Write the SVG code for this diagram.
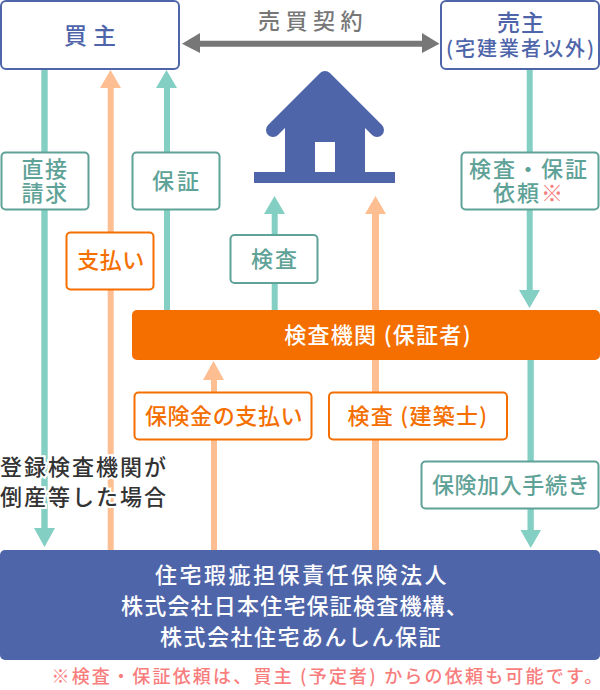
<svg xmlns="http://www.w3.org/2000/svg" width="600" height="690" viewBox="0 0 600 690">
<style>
text{font-family:"Noto Sans CJK JP","Noto Sans",sans-serif;text-anchor:middle;font-weight:500}
.g{fill:#5fa297;font-size:22px}
.o{fill:#f46f00;font-size:22px}
.box{fill:#fff;stroke-width:2}
.gb{stroke:#5fa297}
.ob{stroke:#f46f00}
.bb{stroke:#4f65aa}
.t{fill:#84cfc3}
.p{fill:#fdbe92}
.w{fill:#fff;font-size:22px}
.k{fill:#333;font-size:22px;letter-spacing:2px;stroke:#fff;stroke-width:4px;paint-order:stroke}
</style>
<g id="connectors">
<path class="t" d="M41.300 69H47.700V528H55L44.500 547 34 528H41.300z"/>
<path class="p" d="M107.700 550V88H100L110.500 70 121 88H113.700V550z"/>
<path class="t" d="M164 310V88H156L166.500 70 177 88H170V310z"/>
<path class="t" d="M271.700 310V214H264L274.500 196 285 214H277.700V310z"/>
<path class="p" d="M211 550V380H203L213.500 361 224 380H217V550z"/>
<path class="p" d="M372 550V214H365L375.500 196 386 214H379V550z"/>
<path class="t" d="M526.700 69H532.700V290H540L529.500 308 519 290H526.700z"/>
<path class="t" d="M527.500 360H533.800V530H541L530.700 548 520.500 530H527.500z"/>
<path fill="#777" d="M182 43.700 200 33V40.700H422V33L439.500 43.700 422 53V46.700H200V53z"/>
</g>
<g id="buyer"><rect class="box bb" x="1" y="1" width="178" height="68" rx="5"/><text x="93" y="44" font-size="23" fill="#4f65aa" letter-spacing="6">買主</text></g>
<g id="seller"><rect class="box bb" x="441" y="1" width="158" height="68" rx="5"/><text x="521" y="31" font-size="23" fill="#4f65aa" letter-spacing="1">売主</text><text x="521" y="56" font-size="20" fill="#4f65aa" letter-spacing="2">(宅建業者以外)</text></g>
<g id="contract"><text x="313" y="29" font-size="22" fill="#777" letter-spacing="5.500">売買契約</text></g>
<g id="house"><path fill="#4f65aa" d="M285 172V118L325 78 365 118V172z"/><path fill="none" stroke="#4f65aa" stroke-width="14" stroke-linecap="round" stroke-linejoin="round" d="M273 130 325 78 377 130"/><rect x="254" y="172" width="141" height="11" fill="#4f65aa"/><rect x="315" y="142" width="20" height="30" fill="#fff"/></g>
<g id="direct"><rect class="box gb" x="1.500" y="152.500" width="87" height="57" rx="4"/><text class="g" letter-spacing="1.500"><tspan x="45" y="177">直接</tspan><tspan x="45" dy="24">請求</tspan></text></g>
<g id="warranty"><rect class="box gb" x="132.500" y="152.500" width="87" height="57" rx="4"/><text class="g" x="177" y="189" letter-spacing="3">保証</text></g>
<g id="request"><rect class="box gb" x="461.500" y="152.500" width="137" height="57" rx="4"/><text class="g" letter-spacing="2"><tspan x="529" y="177">検査・保証</tspan><tspan x="529" dy="24">依頼<tspan fill="#f87d7d">※</tspan></tspan></text></g>
<g id="pay"><rect class="box ob" x="66.500" y="232.500" width="87" height="57" rx="4"/><text class="o" x="111" y="268" letter-spacing="0.500">支払い</text></g>
<g id="inspect"><rect class="box gb" x="230.500" y="235" width="87" height="48" rx="4"/><text class="g" x="275" y="267" letter-spacing="2">検査</text></g>
<g id="agency"><rect x="132" y="310" width="468" height="50" rx="5" fill="#f46f00"/><text x="378" y="343" font-size="22" fill="#fff" letter-spacing="1.300">検査機関 (保証者)</text></g>
<g id="insurance-pay"><rect class="box ob" x="134.500" y="392.500" width="177" height="47" rx="4"/><text class="o" x="224" y="424" letter-spacing="0.600">保険金の支払い</text></g>
<g id="architect"><rect class="box ob" x="329" y="392.500" width="178" height="47" rx="4"/><text class="o" x="418" y="424" letter-spacing="1.300">検査 (建築士)</text></g>
<g id="procedure"><rect class="box gb" x="421.500" y="461.500" width="177" height="47" rx="4"/><text class="g" x="511" y="493" letter-spacing="0.600">保険加入手続き</text></g>
<g id="bankrupt"><text class="k"><tspan x="84" y="475">登録検査機関が</tspan><tspan x="84" dy="30">倒産等した場合</tspan></text></g>
<g id="corporation"><rect x="0" y="550" width="600" height="110" rx="5" fill="#4f65aa"/><text class="w" x="302" y="583" letter-spacing="2.500">住宅瑕疵担保責任保険法人</text><text class="w" x="295" y="614" letter-spacing="1.200">株式会社日本住宅保証検査機構、</text><text class="w" x="301" y="645" letter-spacing="1.500">株式会社住宅あんしん保証</text></g>
<g id="note"><text x="328" y="683" font-size="18" fill="#f87d7d" letter-spacing="2.200">※検査・保証依頼は、買主 (予定者) からの依頼も可能です。</text></g>
</svg>
